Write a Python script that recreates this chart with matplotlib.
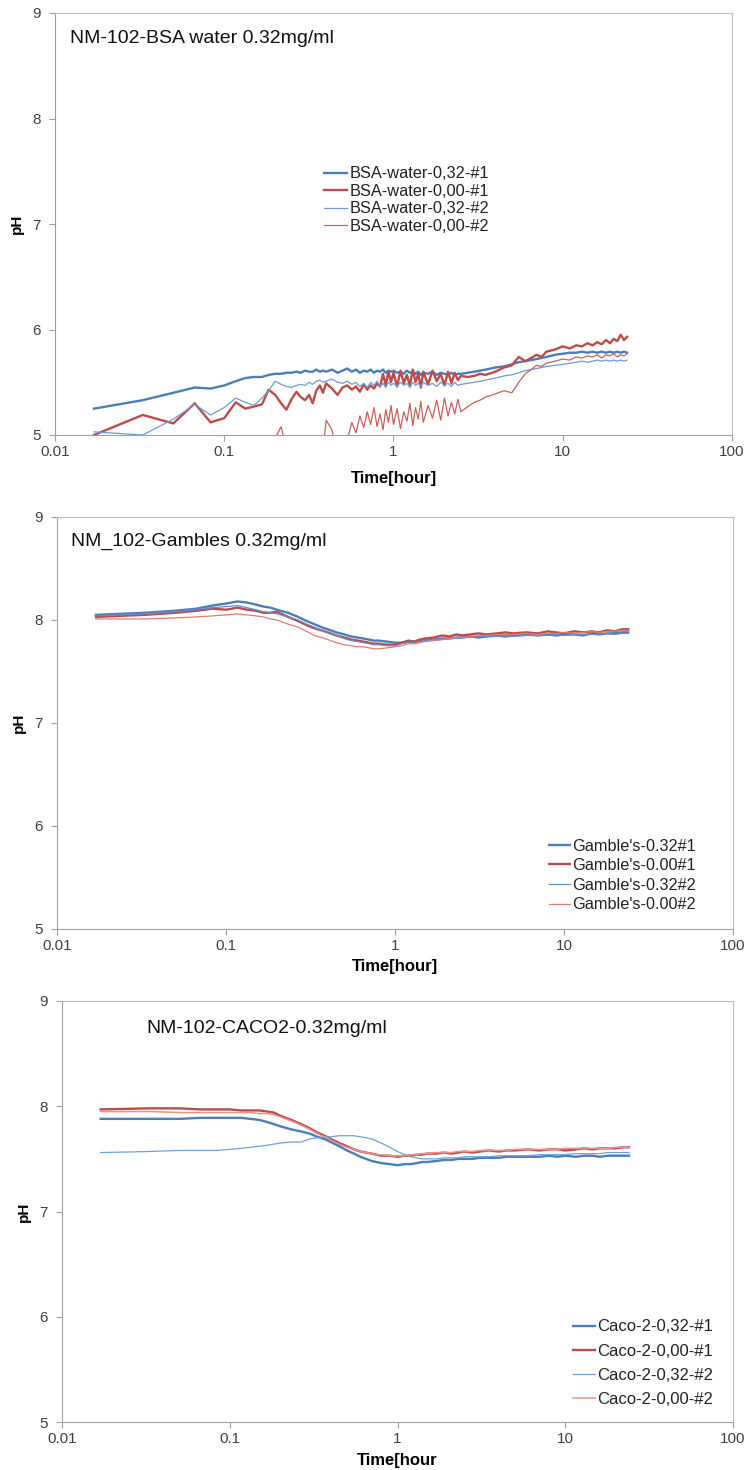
import matplotlib
matplotlib.use("Agg")
import matplotlib.pyplot as plt

plt.rcParams['font.family'] = ['Liberation Sans', 'DejaVu Sans']

# ---------------- data ----------------
# panel 1: BSA water, time in hours
t_bsa = [0.017, 0.033, 0.05, 0.067, 0.083, 0.1, 0.117, 0.133, 0.15, 0.167, 0.183, 0.2,
         0.217, 0.233, 0.25, 0.267, 0.283, 0.3, 0.317, 0.333, 0.35, 0.367, 0.383, 0.4,
         0.433, 0.467, 0.5, 0.533, 0.567, 0.6, 0.633, 0.667, 0.7, 0.733, 0.767, 0.8,
         0.833, 0.867, 0.9, 0.933, 0.967, 1.0, 1.05, 1.1, 1.15, 1.2, 1.25, 1.3, 1.35,
         1.4, 1.45, 1.5, 1.6, 1.7, 1.8, 1.9, 2.0, 2.1, 2.2, 2.3, 2.4, 2.5, 2.75, 3.0,
         3.25, 3.5, 4.0, 4.5, 5.0, 5.5, 6.0, 6.5, 7.0, 7.5, 8.0, 9, 10, 11, 12, 13, 14,
         15, 16, 17, 18, 19, 20, 21, 22, 23, 24]

bsa_032_1 = [5.25, 5.33, 5.40, 5.45, 5.44, 5.47, 5.51, 5.54, 5.55, 5.55, 5.57, 5.58,
             5.58, 5.59, 5.59, 5.60, 5.59, 5.61, 5.60, 5.60, 5.62, 5.60, 5.61, 5.60,
             5.62, 5.59, 5.61, 5.63, 5.60, 5.62, 5.59, 5.61, 5.60, 5.62, 5.59, 5.61,
             5.60, 5.62, 5.59, 5.61, 5.60, 5.61, 5.59, 5.60, 5.58, 5.61, 5.59, 5.60, 5.58,
             5.60, 5.57, 5.59, 5.58, 5.60, 5.57, 5.59, 5.58, 5.57, 5.59, 5.57, 5.58, 5.58,
             5.59, 5.60, 5.61, 5.62, 5.64, 5.65, 5.67, 5.69, 5.70, 5.71, 5.72, 5.73, 5.74,
             5.76, 5.77, 5.78, 5.78, 5.79, 5.78, 5.79, 5.78, 5.79, 5.78, 5.79, 5.78, 5.79,
             5.78, 5.79, 5.78]

bsa_000_1 = [5.00, 5.19, 5.11, 5.30, 5.12, 5.16, 5.31, 5.25, 5.27, 5.29, 5.43, 5.38,
             5.30, 5.24, 5.34, 5.41, 5.36, 5.33, 5.38, 5.30, 5.42, 5.47, 5.40, 5.49,
             5.44, 5.38, 5.45, 5.47, 5.43, 5.46, 5.41, 5.48, 5.43, 5.47, 5.44, 5.49,
             5.46, 5.58, 5.47, 5.60, 5.50, 5.59, 5.46, 5.61, 5.49, 5.57, 5.47, 5.62, 5.50,
             5.58, 5.45, 5.60, 5.48, 5.61, 5.51, 5.58, 5.47, 5.60, 5.49, 5.59, 5.52, 5.56,
             5.55, 5.56, 5.58, 5.57, 5.60, 5.64, 5.66, 5.74, 5.70, 5.73, 5.76, 5.74, 5.79,
             5.81, 5.84, 5.82, 5.85, 5.84, 5.87, 5.85, 5.88, 5.86, 5.90, 5.87, 5.91, 5.89,
             5.95, 5.90, 5.93]

bsa_032_2 = [5.03, 5.00, 5.15, 5.29, 5.19, 5.26, 5.35, 5.31, 5.28, 5.35, 5.42, 5.51,
             5.48, 5.46, 5.45, 5.47, 5.48, 5.47, 5.50, 5.48, 5.51, 5.52, 5.50, 5.51,
             5.53, 5.50, 5.49, 5.51, 5.48, 5.50, 5.46, 5.49, 5.45, 5.50, 5.47, 5.51,
             5.46, 5.49, 5.45, 5.50, 5.47, 5.49, 5.46, 5.50, 5.47, 5.49, 5.45, 5.50, 5.47,
             5.49, 5.46, 5.50, 5.47, 5.49, 5.46, 5.50, 5.47, 5.49, 5.46, 5.50, 5.47, 5.48,
             5.49, 5.50, 5.51, 5.52, 5.54, 5.56, 5.57, 5.59, 5.61, 5.62, 5.63, 5.64, 5.65,
             5.66, 5.67, 5.68, 5.69, 5.70, 5.69, 5.70, 5.71, 5.70, 5.71, 5.70, 5.71, 5.70,
             5.71, 5.70, 5.71]

bsa_000_2 = [4.55, 4.50, 4.60, 4.52, 4.65, 4.58, 4.70, 4.62, 4.75, 4.68, 4.80, 4.97,
             5.08, 4.85, 4.78, 4.82, 4.75, 4.80, 4.72, 4.78, 4.70, 4.76, 4.85, 5.14,
             5.05, 4.80, 4.90, 4.95, 5.12, 5.02, 5.18, 5.07, 5.22, 5.10, 5.26, 5.08,
             5.20, 5.05, 5.24, 5.12, 5.28, 5.10, 5.25, 5.06, 5.22, 5.13, 5.30, 5.09, 5.26,
             5.15, 5.32, 5.12, 5.28, 5.16, 5.33, 5.14, 5.35, 5.18, 5.31, 5.20, 5.34, 5.22,
             5.27, 5.31, 5.33, 5.36, 5.39, 5.42, 5.40, 5.50, 5.58, 5.62, 5.66, 5.65, 5.68,
             5.70, 5.72, 5.71, 5.74, 5.73, 5.75, 5.74, 5.76, 5.73, 5.76, 5.75, 5.77, 5.74,
             5.76, 5.75, 5.77]

# panels 2 and 3: Gamble's and Caco-2, time in hours
t_med = [0.017, 0.033, 0.05, 0.067, 0.083, 0.1, 0.117, 0.133, 0.15, 0.167, 0.183, 0.2,
         0.233, 0.267, 0.3, 0.333, 0.367, 0.4, 0.45, 0.5, 0.55, 0.6, 0.65, 0.7, 0.75,
         0.8, 0.9, 1.0, 1.1, 1.2, 1.3, 1.4, 1.5, 1.7, 1.9, 2.1, 2.3, 2.5, 2.8, 3.1, 3.5,
         4.0, 4.5, 5.0, 6.0, 7.0, 8.0, 9.0, 10.0, 11.5, 13.0, 14.5, 16.0, 18.0, 20.0,
         22.0, 24.0]

gam_032_1 = [8.05, 8.07, 8.09, 8.11, 8.14, 8.16, 8.18, 8.17, 8.15, 8.13, 8.12, 8.10,
             8.07, 8.03, 7.99, 7.96, 7.93, 7.91, 7.88, 7.86, 7.84, 7.83, 7.82, 7.81, 7.80,
             7.80, 7.79, 7.78, 7.78, 7.79, 7.79, 7.80, 7.81, 7.81, 7.82, 7.82, 7.83, 7.83,
             7.84, 7.83, 7.84, 7.85, 7.84, 7.85, 7.86, 7.85, 7.86, 7.85, 7.86, 7.86, 7.85,
             7.87, 7.86, 7.87, 7.87, 7.88, 7.88]
gam_000_1 = [8.03, 8.05, 8.07, 8.09, 8.11, 8.10, 8.12, 8.10, 8.09, 8.07, 8.07, 8.08,
             8.03, 7.99, 7.95, 7.92, 7.90, 7.88, 7.85, 7.83, 7.81, 7.80, 7.79, 7.78, 7.77,
             7.77, 7.76, 7.76, 7.78, 7.80, 7.79, 7.81, 7.82, 7.83, 7.85, 7.84, 7.86, 7.85,
             7.86, 7.87, 7.86, 7.87, 7.88, 7.87, 7.88, 7.87, 7.89, 7.88, 7.87, 7.89, 7.88,
             7.89, 7.88, 7.90, 7.89, 7.91, 7.91]
gam_032_2 = [8.04, 8.06, 8.08, 8.10, 8.12, 8.13, 8.14, 8.12, 8.10, 8.08, 8.07, 8.06,
             8.03, 8.00, 7.96, 7.93, 7.90, 7.88, 7.85, 7.82, 7.80, 7.79, 7.78, 7.77, 7.76,
             7.76, 7.75, 7.75, 7.77, 7.78, 7.78, 7.79, 7.80, 7.81, 7.81, 7.82, 7.82, 7.83,
             7.83, 7.84, 7.84, 7.84, 7.85, 7.84, 7.85, 7.85, 7.85, 7.86, 7.85, 7.86, 7.86,
             7.86, 7.86, 7.87, 7.86, 7.87, 7.87]
gam_000_2 = [8.01, 8.01, 8.02, 8.03, 8.04, 8.05, 8.06, 8.05, 8.04, 8.03, 8.01, 8.00,
             7.96, 7.93, 7.89, 7.85, 7.83, 7.81, 7.78, 7.76, 7.75, 7.74, 7.74, 7.73, 7.72,
             7.72, 7.73, 7.74, 7.75, 7.77, 7.77, 7.78, 7.79, 7.80, 7.81, 7.82, 7.83, 7.83,
             7.84, 7.85, 7.85, 7.86, 7.86, 7.86, 7.87, 7.86, 7.87, 7.87, 7.88, 7.87, 7.88,
             7.89, 7.88, 7.89, 7.89, 7.90, 7.90]

caco_032_1 = [7.88, 7.88, 7.88, 7.89, 7.89, 7.89, 7.89, 7.88, 7.87, 7.85, 7.83, 7.81,
              7.78, 7.76, 7.74, 7.71, 7.69, 7.66, 7.62, 7.58, 7.55, 7.52, 7.50, 7.48, 7.47,
              7.46, 7.45, 7.44, 7.45, 7.45, 7.46, 7.47, 7.47, 7.48, 7.49, 7.49, 7.50, 7.50,
              7.50, 7.51, 7.51, 7.51, 7.52, 7.52, 7.52, 7.52, 7.53, 7.52, 7.53, 7.52, 7.53,
              7.53, 7.52, 7.53, 7.53, 7.53, 7.53]
caco_000_1 = [7.97, 7.98, 7.98, 7.97, 7.97, 7.97, 7.96, 7.96, 7.96, 7.95, 7.94, 7.91,
              7.87, 7.83, 7.79, 7.75, 7.72, 7.69, 7.65, 7.62, 7.59, 7.57, 7.56, 7.55, 7.54,
              7.53, 7.53, 7.52, 7.53, 7.53, 7.54, 7.54, 7.55, 7.55, 7.56, 7.55, 7.56, 7.57,
              7.56, 7.57, 7.58, 7.57, 7.58, 7.58, 7.59, 7.58, 7.59, 7.59, 7.58, 7.59, 7.60,
              7.59, 7.60, 7.60, 7.60, 7.61, 7.61]
caco_032_2 = [7.56, 7.57, 7.58, 7.58, 7.58, 7.59, 7.60, 7.61, 7.62, 7.63, 7.64, 7.65,
              7.66, 7.66, 7.69, 7.70, 7.71, 7.71, 7.72, 7.72, 7.72, 7.71, 7.70, 7.69, 7.67,
              7.65, 7.61, 7.57, 7.54, 7.52, 7.51, 7.50, 7.50, 7.50, 7.51, 7.51, 7.51, 7.52,
              7.52, 7.52, 7.52, 7.53, 7.53, 7.53, 7.53, 7.54, 7.54, 7.54, 7.54, 7.55, 7.55,
              7.55, 7.55, 7.56, 7.56, 7.56, 7.56]
caco_000_2 = [7.95, 7.95, 7.94, 7.94, 7.94, 7.94, 7.94, 7.94, 7.93, 7.93, 7.92, 7.90,
              7.86, 7.82, 7.78, 7.74, 7.71, 7.68, 7.64, 7.61, 7.59, 7.57, 7.56, 7.55, 7.54,
              7.54, 7.53, 7.53, 7.53, 7.54, 7.54, 7.55, 7.55, 7.56, 7.56, 7.56, 7.57, 7.57,
              7.57, 7.58, 7.58, 7.58, 7.58, 7.59, 7.59, 7.59, 7.59, 7.59, 7.60, 7.60, 7.60,
              7.60, 7.60, 7.60, 7.61, 7.61, 7.61]

x_ticks = [0.01, 0.1, 1, 10, 100]
x_ticklabels = ["0.01", "0.1", "1", "10", "100"]
y_ticks = [5, 6, 7, 8, 9]

BLUE = "#4A7EBB"
RED = "#BE4B48"
NARROW = ['Liberation Sans Narrow', 'Liberation Sans', 'DejaVu Sans']


def style_axes(ax, xlabel, xpad=7):
    ax.set_xscale("log")
    ax.set_xlim(0.01, 100)
    ax.set_ylim(5, 9)
    ax.set_xticks(x_ticks)
    ax.set_xticklabels(x_ticklabels)
    ax.minorticks_off()
    ax.set_yticks(y_ticks)
    for side in ["left", "bottom"]:
        ax.spines[side].set_color("#A0A0A0")
    for side in ["top", "right"]:
        ax.spines[side].set_color("#BDBDBD")
    ax.tick_params(axis="both", colors="#A0A0A0", labelcolor="#404040",
                   labelsize=11, length=4, width=0.8)
    ax.tick_params(axis="y", pad=6)
    ax.set_ylabel("pH", fontsize=11, fontweight="bold", family=NARROW, labelpad=6)
    ax.set_xlabel(xlabel, fontsize=12, fontweight="bold", family=NARROW, labelpad=xpad)


fig = plt.figure(figsize=(7.48, 14.70), dpi=100)

# ---- panel 1 ----
ax1 = fig.add_axes([55 / 748, 1 - 435 / 1470, 677 / 748, 422 / 1470])
ax1.plot(t_bsa, bsa_032_1, color=BLUE, lw=1.7, label="BSA-water-0,32-#1")
ax1.plot(t_bsa, bsa_000_1, color=RED, lw=1.7, label="BSA-water-0,00-#1")
ax1.plot(t_bsa, bsa_032_2, color="#6E9BD2", lw=0.9, label="BSA-water-0,32-#2")
ax1.plot(t_bsa, bsa_000_2, color="#C8605D", lw=0.9, label="BSA-water-0,00-#2")
style_axes(ax1, "Time[hour]", xpad=8)
ax1.text(0.022, 0.94, "NM-102-BSA water 0.32mg/ml", transform=ax1.transAxes,
         fontsize=14, color="#111111", va="center")
ax1.legend(loc="upper left", bbox_to_anchor=(0.388, 0.652), frameon=False,
           fontsize=11.8, handlelength=1.4, handletextpad=0.15, labelspacing=0.15,
           borderaxespad=0, labelcolor="#222222")

# ---- panel 2 ----
ax2 = fig.add_axes([57 / 748, 1 - 929 / 1470, 676 / 748, 412 / 1470])
ax2.plot(t_med, gam_032_1, color=BLUE, lw=1.7, label="Gamble's-0.32#1")
ax2.plot(t_med, gam_000_1, color=RED, lw=1.7, label="Gamble's-0.00#1")
ax2.plot(t_med, gam_032_2, color="#5F8FCF", lw=0.9, label="Gamble's-0.32#2")
ax2.plot(t_med, gam_000_2, color="#E07C79", lw=0.9, label="Gamble's-0.00#2")
style_axes(ax2, "Time[hour]", xpad=4)
ax2.text(0.02, 0.94, "NM_102-Gambles 0.32mg/ml", transform=ax2.transAxes,
         fontsize=14, color="#111111", va="center")
ax2.legend(loc="lower right", bbox_to_anchor=(0.955, 0.025), frameon=False,
           fontsize=11.7, handlelength=1.3, handletextpad=0.12, labelspacing=0.28,
           borderaxespad=0, labelcolor="#222222")

# ---- panel 3 ----
ax3 = fig.add_axes([62 / 748, 1 - 1422 / 1470, 671 / 748, 421 / 1470])
ax3.plot(t_med, caco_032_1, color=BLUE, lw=1.7, label="Caco-2-0,32-#1")
ax3.plot(t_med, caco_000_1, color=RED, lw=1.7, label="Caco-2-0,00-#1")
ax3.plot(t_med, caco_032_2, color="#6FA0E0", lw=0.9, label="Caco-2-0,32-#2")
ax3.plot(t_med, caco_000_2, color="#E8918E", lw=1.1, label="Caco-2-0,00-#2")
style_axes(ax3, "Time[hour", xpad=5)
ax3.text(0.125, 0.935, "NM-102-CACO2-0.32mg/ml", transform=ax3.transAxes,
         fontsize=14, color="#111111", va="center")
ax3.legend(loc="lower right", bbox_to_anchor=(0.98, 0.02), frameon=False,
           fontsize=12, handlelength=1.3, handletextpad=0.12, labelspacing=0.55,
           borderaxespad=0, labelcolor="#222222")

fig.savefig("out.png", dpi=100)
